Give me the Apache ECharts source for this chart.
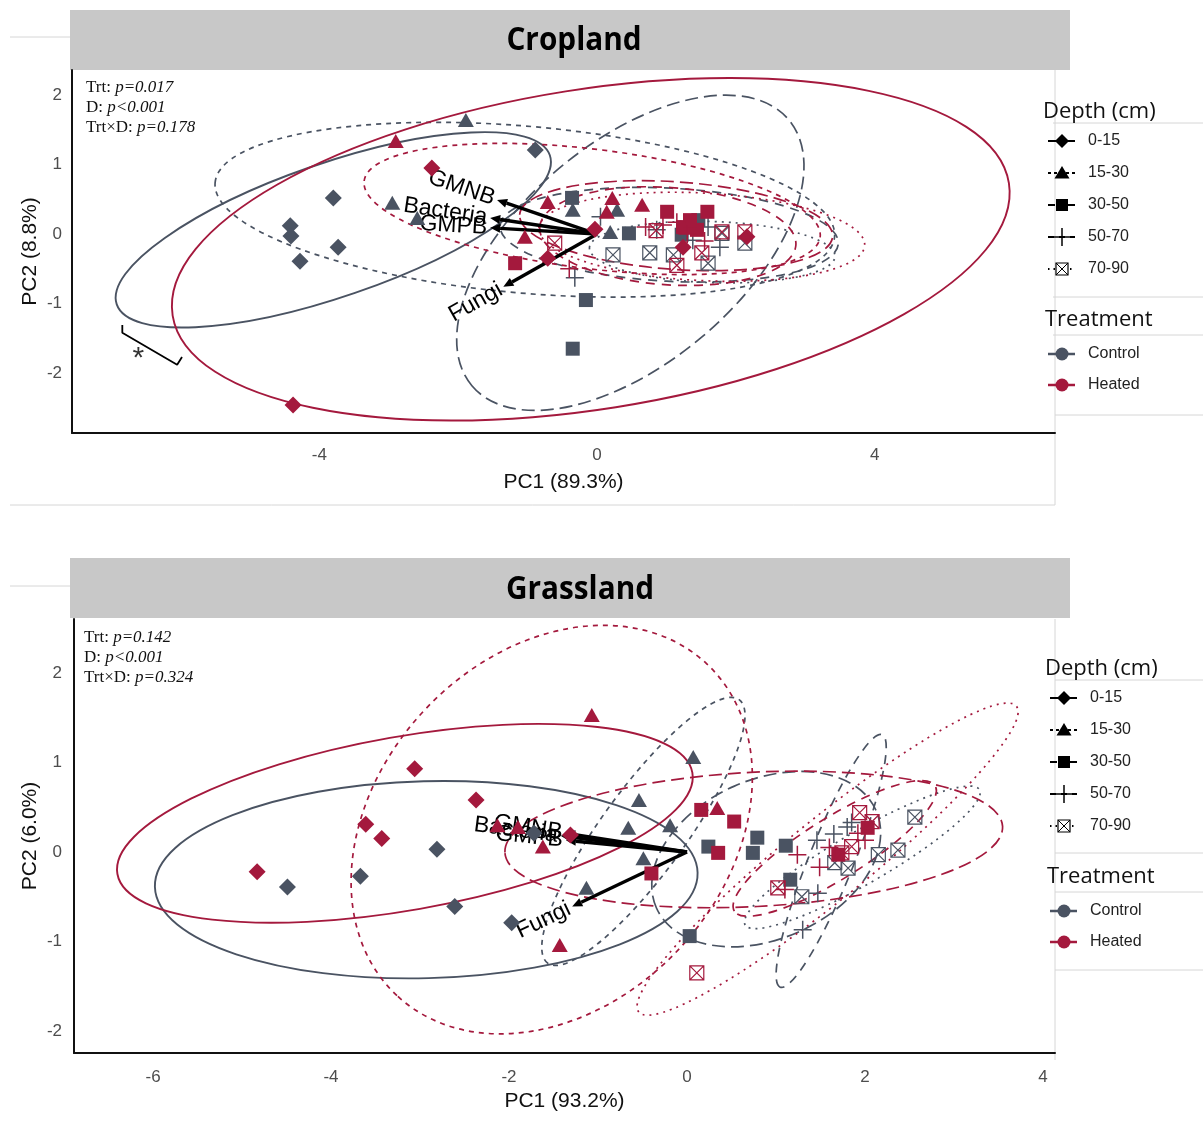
<!DOCTYPE html>
<html><head><meta charset="utf-8">
<script src="https://cdn.jsdelivr.net/npm/echarts@6/dist/echarts.min.js"></script>
<style>html,body{margin:0;padding:0;background:#fff}#main{width:1203px;height:1136px}</style>
</head><body><div id="main"></div>
<script>
// ---------------- DATA ----------------
const depthLabels = ['0-15', '15-30', '30-50', '50-70', '70-90'];
const treatmentLabels = ['Control', 'Heated'];
const panelTitles = ['Cropland', 'Grassland'];
const xTicksCrop = [-4, 0, 4];
const yTicksCrop = [-2, -1, 0, 1, 2];
const xTicksGrass = [-6, -4, -2, 0, 2, 4];
const yTicksGrass = [-2, -1, 0, 1, 2];
const xNames = ['PC1 (89.3%)', 'PC1 (93.2%)'];
const yNames = ['PC2 (8.8%)', 'PC2 (6.0%)'];

// Cropland PCA scores [PC1, PC2]
const cropControl015  = [[-3.80,0.52],[-4.42,0.12],[-4.41,-0.03],[-3.73,-0.19],[-4.28,-0.39],[-0.89,1.21]];
const cropControl1530 = [[-1.89,1.64],[-2.95,0.45],[-2.59,0.23],[-0.35,0.35],[0.29,0.35],[0.19,0.03]];
const cropControl3050 = [[-0.36,0.52],[0.46,0.01],[-0.16,-0.95],[-0.35,-1.65],[1.46,0.20],[1.22,-0.01]];
const cropControl5070 = [[-0.32,-0.63],[0.86,0.06],[1.77,-0.19],[1.38,-0.09],[1.60,0.10],[0.05,0.25]];
const cropControl7090 = [[0.23,-0.30],[0.76,-0.27],[1.10,-0.30],[1.60,-0.42],[1.80,0.01],[2.13,-0.13]];
const cropHeated015   = [[-2.38,0.95],[-4.38,-2.46],[-0.71,-0.35],[-0.03,0.07],[1.24,-0.19],[2.16,-0.04]];
const cropHeated1530  = [[-2.90,1.34],[-0.71,0.46],[-1.04,-0.04],[0.22,0.52],[0.14,0.32],[0.65,0.42]];
const cropHeated3050  = [[-1.18,-0.42],[1.01,0.32],[1.59,0.32],[1.24,0.10],[1.44,0.06],[1.34,0.20]];
const cropHeated5070  = [[0.95,0.13],[1.15,0.17],[1.30,0.00],[0.70,0.10],[1.55,-0.10],[-0.40,-0.50]];
const cropHeated7090  = [[-0.61,-0.13],[1.15,-0.45],[1.51,-0.27],[1.80,0.03],[2.13,0.03],[0.85,0.05]];

// Grassland PCA scores [PC1, PC2]
const grassControl015  = [[-4.49,-0.39],[-3.67,-0.27],[-2.81,0.03],[-2.61,-0.61],[-1.97,-0.79],[-1.72,0.21]];
const grassControl1530 = [[0.07,1.06],[-0.54,0.58],[-0.66,0.27],[-0.19,0.30],[-0.49,-0.07],[-1.13,-0.40]];
const grassControl3050 = [[0.24,0.06],[0.79,0.16],[0.74,-0.01],[1.11,0.07],[1.16,-0.31],[0.03,-0.94]];
const grassControl5070 = [[1.80,0.28],[1.46,0.13],[1.47,-0.46],[1.30,-0.87],[1.85,0.33],[1.65,0.20]];
const grassControl7090 = [[2.56,0.39],[2.37,0.02],[2.15,-0.03],[1.29,-0.50],[1.66,-0.12],[1.81,-0.18]];
const grassHeated015   = [[-4.83,-0.22],[-3.61,0.31],[-3.43,0.15],[-3.06,0.93],[-2.37,0.58],[-1.31,0.19]];
const grassHeated1530  = [[-1.07,1.53],[-2.13,0.30],[-1.90,0.28],[-1.62,0.06],[-1.43,-1.04],[0.34,0.49]];
const grassHeated3050  = [[0.16,0.47],[0.53,0.34],[0.35,-0.01],[2.03,0.27],[1.70,-0.03],[-0.40,-0.24]];
const grassHeated5070  = [[1.24,-0.03],[1.49,-0.17],[1.10,-0.42],[1.92,0.21],[2.00,0.13],[1.60,0.05]];
const grassHeated7090  = [[1.94,0.44],[1.02,-0.40],[1.85,0.06],[2.08,0.34],[0.11,-1.35],[1.74,-0.01]];

// Confidence ellipses per depth: [centre PC1, centre PC2, semi-axis a, semi-axis b, angle deg]
const cropEllipseControl = [[-3.80,0.06,3.30,0.96,19],[-1.04,0.35,4.48,1.20,-5],[0.48,-0.27,2.98,1.59,40],[1.04,-0.01,2.44,0.67,-3],[1.66,-0.26,1.77,0.44,-2]];
const cropEllipseHeated  = [[-0.09,-0.22,6.10,2.30,9],[-0.07,0.36,3.31,0.86,-7],[1.14,0.12,2.26,0.63,-4],[1.02,-0.03,1.85,0.70,-4],[1.51,-0.04,2.35,0.63,-3]];
const grassEllipseControl = [[-2.93,-0.31,3.05,1.10,1.5],[-0.49,0.23,1.83,0.47,54],[0.89,-0.08,1.35,0.89,24],[1.62,-0.10,1.53,0.25,68],[1.97,-0.06,1.52,0.29,30]];
const grassEllipseHeated  = [[-3.17,0.32,3.28,0.97,10],[-1.52,0.25,2.55,1.95,47],[0.75,0.14,2.80,0.75,3],[1.66,0.04,1.33,0.34,32],[1.58,-0.08,2.73,0.45,39]];

// Variable loadings (arrow tips)
const loadingNames = ['GMNB', 'Bacteria', 'GMPB', 'Fungi'];
const cropLoadings  = [[-1.44,0.49],[-1.54,0.23],[-1.54,0.09],[-1.35,-0.76]];
const grassLoadings = [[-1.37,0.21],[-1.42,0.18],[-1.36,0.13],[-1.29,-0.61]];

// Statistics annotations
const cropStats  = [['Trt: ', 'p=0.017'], ['D: ', 'p<0.001'], ['Trt×D: ', 'p=0.178']];
const grassStats = [['Trt: ', 'p=0.142'], ['D: ', 'p<0.001'], ['Trt×D: ', 'p=0.324']];

// Significance bracket (Cropland)
const cropBracket = [[-6.84,-1.31],[-6.84,-1.42],[-6.05,-1.88],[-5.98,-1.77]];
const cropStar = [[-6.61,-1.80]];

// ---------------- BUILD ----------------
const COL = { Control: '#4a5362', Heated: '#a4193d' };
const DASH = [null, [5, 5], [13, 6], [9, 7], [2, 5]];
const SYMBOLS = ['diamond', 'triangle', 'rect',
  'path://M10,0L10,20M0,10L20,10',
  'path://M0,0L20,0L20,20L0,20ZM0,0L20,20M20,0L0,20'];
const SIZES = [[17, 17], [16, 14], [14, 14], [18, 18], [14, 14]];

const scores = [
  [[cropControl015, cropControl1530, cropControl3050, cropControl5070, cropControl7090],
   [cropHeated015, cropHeated1530, cropHeated3050, cropHeated5070, cropHeated7090]],
  [[grassControl015, grassControl1530, grassControl3050, grassControl5070, grassControl7090],
   [grassHeated015, grassHeated1530, grassHeated3050, grassHeated5070, grassHeated7090]]
];
const ellipses = [[cropEllipseControl, cropEllipseHeated], [grassEllipseControl, grassEllipseHeated]];
const loadings = [cropLoadings, grassLoadings];

const series = [];
for (let p = 0; p < 2; p++) {
  const eData = [];
  for (let t = 0; t < 2; t++) for (let d = 0; d < 5; d++) eData.push(ellipses[p][t][d].concat([t, d]));
  series.push({
    type: 'custom', xAxisIndex: p, yAxisIndex: p, z: 2, silent: true,
    dimensions: ['x', 'y', 'a', 'b', 'ang', 't', 'd'], encode: { x: 0, y: 1 },
    data: eData,
    renderItem: function (params, api) {
      const c = api.coord([api.value(0), api.value(1)]);
      const rx = api.size([api.value(2), 0])[0];
      const ry = api.size([0, api.value(3)])[1];
      const t = api.value(5), d = api.value(6);
      return {
        type: 'ellipse', x: c[0], y: c[1], rotation: api.value(4) * Math.PI / 180,
        shape: { cx: 0, cy: 0, rx: rx, ry: ry },
        style: { fill: 'none', stroke: COL[treatmentLabels[t]], lineWidth: d === 0 ? 1.9 : 1.7, lineDash: DASH[d] }
      };
    }
  });
  series.push({
    type: 'custom', xAxisIndex: p, yAxisIndex: p, z: 3, silent: true,
    encode: { x: 0, y: 1 },
    data: loadings[p],
    renderItem: function (params, api) {
      const o = api.coord([0, 0]);
      const q = api.coord([api.value(0), api.value(1)]);
      const dx = q[0] - o[0], dy = q[1] - o[1];
      const L = Math.hypot(dx, dy); const ux = dx / L, uy = dy / L;
      const hl = 10, hw = 4.5;
      const bx = q[0] - ux * hl, by = q[1] - uy * hl;
      return {
        type: 'group', children: [
          { type: 'line', shape: { x1: o[0], y1: o[1], x2: bx, y2: by }, style: { stroke: '#000', lineWidth: 3.4 } },
          { type: 'polygon', shape: { points: [[q[0], q[1]], [bx - uy * hw, by + ux * hw], [bx + uy * hw, by - ux * hw]] }, style: { fill: '#000' } },
          { type: 'text', x: q[0] + ux * 3, y: q[1] + uy * 3, rotation: Math.atan2(uy, -ux),
            style: { text: loadingNames[params.dataIndex], font: '23px "Liberation Sans"', fill: '#000', align: 'right', verticalAlign: 'middle' } }
        ]
      };
    }
  });
  for (let t = 0; t < 2; t++) {
    const c = COL[treatmentLabels[t]];
    for (let d = 0; d < 5; d++) {
      const stroke = d >= 3;
      series.push({
        type: 'scatter', xAxisIndex: p, yAxisIndex: p, z: 5, silent: true,
        name: treatmentLabels[t] + ' ' + depthLabels[d],
        data: scores[p][t][d], symbol: SYMBOLS[d], symbolSize: SIZES[d],
        itemStyle: stroke ? { color: 'rgba(0,0,0,0)', borderColor: c, borderWidth: d === 3 ? 1.5 : 1.2, opacity: 1 }
                          : { color: c, opacity: 1 }
      });
    }
  }
}
series.push({ type: 'line', xAxisIndex: 0, yAxisIndex: 0, data: cropBracket, symbol: 'none', silent: true, z: 4,
  lineStyle: { color: '#000', width: 1.8 } });
series.push({ type: 'scatter', xAxisIndex: 0, yAxisIndex: 0, data: cropStar, symbolSize: 1, silent: true, z: 4,
  itemStyle: { color: 'rgba(0,0,0,0)' },
  label: { show: true, formatter: '*', position: 'inside', fontSize: 30, fontFamily: 'Liberation Sans', color: '#000' } });

function axisCfg(grid, min, max, ticks, name, margin, gap) {
  return { gridIndex: grid, type: 'value', min: min, max: max,
    axisLine: { show: true, onZero: false, lineStyle: { color: '#111', width: 2 } },
    axisTick: { show: false }, splitLine: { show: false },
    axisLabel: { customValues: ticks, margin: margin, fontSize: 17, fontFamily: 'Liberation Sans', color: '#4d4d4d' },
    name: name, nameLocation: 'middle', nameGap: gap, nameMoveOverlap: false,
    nameTextStyle: { fontSize: 21, fontFamily: 'Liberation Sans', color: '#111' } };
}

// ---------------- GRAPHIC (strips, legends, notes) ----------------
const G = [];
function faint(x1, y1, x2, y2) { G.push({ type: 'line', silent: true, shape: { x1, y1, x2, y2 }, style: { stroke: '#d6d6d6', lineWidth: 1 } }); }
faint(10, 37, 70, 37); faint(10, 505, 1055, 505); faint(1055, 70, 1055, 505);
faint(10, 586, 70, 586); faint(1055, 619, 1055, 1060);
faint(1053, 123, 1203, 123); faint(1053, 297, 1203, 297); faint(1053, 335, 1203, 335); faint(1055, 415, 1203, 415);
faint(1055, 680, 1203, 680); faint(1055, 853, 1203, 853); faint(1055, 892, 1203, 892); faint(1055, 970, 1203, 970);

const strips = [[70, 10, 574, 41], [70, 558, 580, 590]];
strips.forEach((s, i) => {
  G.push({ type: 'rect', silent: true, shape: { x: s[0], y: s[1], width: 1000, height: 60 }, style: { fill: '#c8c8c8' } });
  G.push({ type: 'text', silent: true, x: s[2], y: s[3], scaleX: 0.93,
    style: { text: panelTitles[i], font: 'bold 32px "Open Sans"', fill: '#000', align: 'center', verticalAlign: 'middle',
      textAlign: 'center', textVerticalAlign: 'middle' } });
});

const statsPos = [[86, 88], [84, 638]];
[cropStats, grassStats].forEach((st, i) => {
  st.forEach((row, k) => {
    G.push({ type: 'text', silent: true, x: statsPos[i][0], y: statsPos[i][1] + k * 20,
      style: { text: '{a|' + row[0] + '}{b|' + row[1] + '}', verticalAlign: 'middle', textVerticalAlign: 'middle',
        rich: { a: { font: '17px "Liberation Serif"', fill: '#111', color: '#111' },
                b: { font: 'italic 17px "Liberation Serif"', fill: '#111', color: '#111' } } } });
  });
});

function glyph(i, cx, cy) {
  if (i === 0) return { type: 'polygon', shape: { points: [[cx, cy - 7], [cx + 7, cy], [cx, cy + 7], [cx - 7, cy]] }, style: { fill: '#000' } };
  if (i === 1) return { type: 'polygon', shape: { points: [[cx, cy - 7], [cx + 7.5, cy + 5.5], [cx - 7.5, cy + 5.5]] }, style: { fill: '#000' } };
  if (i === 2) return { type: 'rect', shape: { x: cx - 6, y: cy - 6, width: 12, height: 12 }, style: { fill: '#000' } };
  if (i === 3) return { type: 'group', children: [
    { type: 'line', shape: { x1: cx - 9, y1: cy, x2: cx + 9, y2: cy }, style: { stroke: '#000', lineWidth: 1.5 } },
    { type: 'line', shape: { x1: cx, y1: cy - 9, x2: cx, y2: cy + 9 }, style: { stroke: '#000', lineWidth: 1.5 } }] };
  return { type: 'group', children: [
    { type: 'rect', shape: { x: cx - 6, y: cy - 6, width: 12, height: 12 }, style: { fill: '#fff', stroke: '#000', lineWidth: 1.2 } },
    { type: 'line', shape: { x1: cx - 6, y1: cy - 6, x2: cx + 6, y2: cy + 6 }, style: { stroke: '#000', lineWidth: 1 } },
    { type: 'line', shape: { x1: cx + 6, y1: cy - 6, x2: cx - 6, y2: cy + 6 }, style: { stroke: '#000', lineWidth: 1 } }] };
}
const LEG_DASH = [null, [3, 3], [7, 3], [6, 5], [1.5, 4]];
function legend(x, y) {
  const txt = (tx, ty, s, font, fill) => ({ type: 'text', silent: true, x: tx, y: ty,
    style: { text: s, font: font, fill: fill, verticalAlign: 'middle', textVerticalAlign: 'middle' } });
  G.push(txt(x, y, 'Depth (cm)', '22px "Open Sans"', '#111'));
  const rowY = [29, 61, 93, 125, 157];
  depthLabels.forEach((d, i) => {
    const cy = y + rowY[i], cx = x + 19;
    G.push({ type: 'line', silent: true, shape: { x1: cx - 14, y1: cy, x2: cx + 13, y2: cy }, style: { stroke: '#000', lineWidth: 2, lineDash: LEG_DASH[i] } });
    const g = glyph(i, cx, cy); g.silent = true; G.push(g);
    G.push(txt(x + 45, cy, d, '16px "Liberation Sans"', '#222'));
  });
  G.push(txt(x + 2, y + 208, 'Treatment', '22px "Open Sans"', '#111'));
  treatmentLabels.forEach((t, i) => {
    const cy = y + 242 + i * 31, cx = x + 19;
    G.push({ type: 'line', silent: true, shape: { x1: cx - 14, y1: cy, x2: cx + 13, y2: cy }, style: { stroke: COL[t], lineWidth: 2.5 } });
    G.push({ type: 'circle', silent: true, shape: { cx: cx, cy: cy, r: 6.5 }, style: { fill: COL[t] } });
    G.push(txt(x + 45, cy, t, '16px "Liberation Sans"', '#222'));
  });
}
legend(1043, 112);
legend(1045, 669);

const option = {
  backgroundColor: '#fff',
  animation: false,
  grid: [
    { left: 72, top: 70, width: 983, height: 363, containLabel: false },
    { left: 74, top: 619, width: 981, height: 434, containLabel: false }
  ],
  xAxis: [
    axisCfg(0, -7.565, 6.599, xTicksCrop, xNames[0], 14, 39),
    axisCfg(1, -6.888, 4.135, xTicksGrass, xNames[1], 16, 38)
  ],
  yAxis: [
    axisCfg(0, -2.863, 2.360, yTicksCrop, yNames[0], 10, 31),
    axisCfg(1, -2.246, 2.603, yTicksGrass, yNames[1], 12, 33)
  ],
  series: series,
  graphic: { elements: G }
};
const chart = echarts.init(document.getElementById('main'));
chart.setOption(option);
</script></body></html>
